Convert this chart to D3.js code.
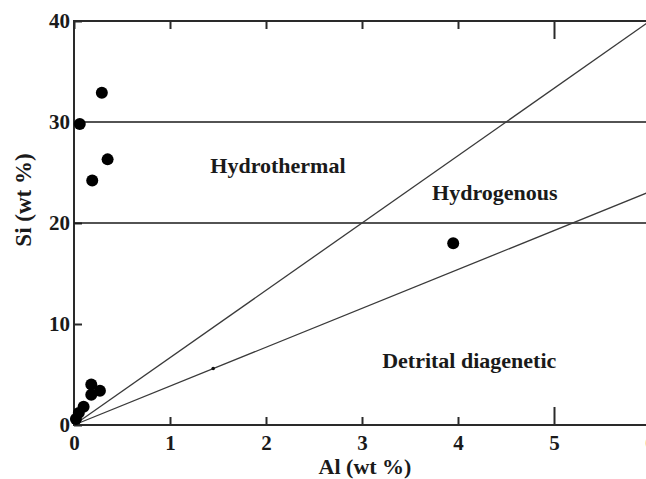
<!DOCTYPE html>
<html>
<head>
<meta charset="utf-8">
<script src="https://cdn.jsdelivr.net/npm/d3@7"></script>
<style>
  body { margin: 0; background: #fff; }
  svg { display: block; }
  text { font-family: "Liberation Serif", "Times New Roman", serif; font-weight: bold; fill: #1a1a1a; }
</style>
</head>
<body>
<svg id="graf" width="646" height="479"></svg>
<script>
// datos
alVals = [0.29, 0.06, 0.35, 0.19, 3.95, 0.18, 0.27, 0.18, 0.10, 0.05, 0.02]
siVals = [32.9, 29.8, 26.3, 24.2, 18.0, 4.0, 3.4, 3.0, 1.8, 1.2, 0.6]
// lineas horizontales (Si)
lineasH = [20, 30]
// lineas diagonales desde el origen: punto final (Al, Si)
diagAl = [6, 6]
diagSi = [40, 23.1]
// punto pequeno sobre la linea inferior
marcaAl = [1.45]
marcaSi = [5.6]
// etiquetas de zonas
zonas = ['Hydrothermal', 'Hydrogenous', 'Detrital diagenetic']
zonaAl = [1.42, 3.73, 3.21]
zonaSi = [25.0, 22.3, 5.6]
ticksX = [0, 1, 2, 3, 4, 5, 6]
ticksY = [0, 10, 20, 30, 40]

svg = d3.select('#graf')
margen = { izq: 74, sup: 21, der: 650, inf: 425 }

x = d3.scaleLinear().domain([0, 6]).range([margen.izq, margen.der])
y = d3.scaleLinear().domain([0, 40]).range([margen.inf, margen.sup])

// marco
svg.append('rect')
  .attr('x', x(0)).attr('y', y(40))
  .attr('width', x(6) - x(0)).attr('height', y(0) - y(40))
  .attr('fill', 'none').attr('stroke', '#2a2a2a').attr('stroke-width', 2)

// ejes
function estiloEje(g) {
  g.select('.domain').remove()
  g.selectAll('.tick line').attr('stroke', '#2a2a2a').attr('stroke-width', 2)
  g.selectAll('text').attr('font-size', '21px').attr('fill', '#1a1a1a')
    .attr('font-family', '"Liberation Serif", serif').attr('font-weight', 'bold')
}

xAxisGroup = svg.append('g').attr('transform', `translate(0, ${y(0)})`)
  .call(d3.axisBottom(x).tickValues(ticksX).tickSize(-8).tickPadding(10).tickFormat(d3.format('d')))
  .call(estiloEje)
xAxisGroup.selectAll('.tick line').filter(d => d === 5).attr('y2', -18)

topAxisGroup = svg.append('g').attr('transform', `translate(0, ${y(40)})`)
  .call(d3.axisTop(x).tickValues(ticksX).tickSize(-8).tickFormat(''))
  .call(estiloEje)
topAxisGroup.selectAll('.tick line').filter(d => d === 5).attr('y2', 18)

yAxisGroup = svg.append('g').attr('transform', `translate(${x(0)}, 0)`)
  .call(d3.axisLeft(y).tickValues(ticksY).tickSize(-8).tickPadding(4))
  .call(estiloEje)

// lineas horizontales
svg.selectAll('.lineaH').data(lineasH).enter().append('line')
  .attr('x1', x(0)).attr('x2', x(6))
  .attr('y1', d => y(d)).attr('y2', d => y(d))
  .attr('stroke', '#1a1a1a').attr('stroke-width', 1.6)

// lineas diagonales
svg.selectAll('.diag').data(diagAl).enter().append('line')
  .attr('x1', x(0)).attr('y1', y(0))
  .attr('x2', d => x(d)).attr('y2', (d, i) => y(diagSi[i]))
  .attr('stroke', '#3a3a3a').attr('stroke-width', 1.3)

svg.selectAll('.marca').data(marcaAl).enter().append('circle')
  .attr('cx', d => x(d)).attr('cy', (d, i) => y(marcaSi[i]))
  .attr('r', 1.8).attr('fill', '#111')

// puntos
svg.selectAll('.punto').data(alVals).enter().append('circle')
  .attr('cx', d => x(d)).attr('cy', (d, i) => y(siVals[i]))
  .attr('r', 6).attr('fill', '#000')

// etiquetas de zonas
svg.selectAll('.zona').data(zonas).enter().append('text')
  .attr('x', (d, i) => x(zonaAl[i])).attr('y', (d, i) => y(zonaSi[i]))
  .attr('font-size', '22px')
  .text(d => d)

// titulos de ejes
svg.append('text').attr('x', 365).attr('y', 474).attr('text-anchor', 'middle')
  .attr('font-size', '22px').text('Al (wt %)')
svg.append('text').attr('transform', 'translate(31, 200) rotate(-90)').attr('text-anchor', 'middle')
  .attr('font-size', '23px').text('Si (wt %)')
</script>
</body>
</html>
